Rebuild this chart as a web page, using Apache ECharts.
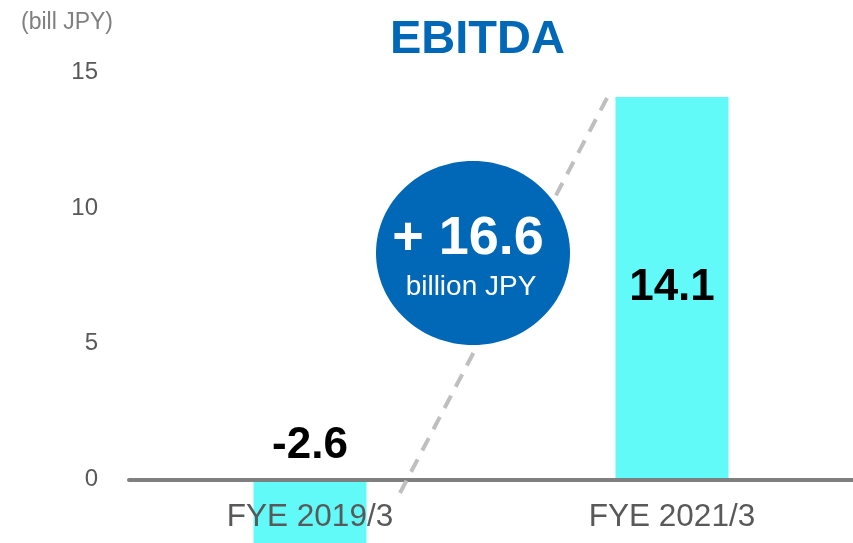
<!doctype html>
<html lang="en">
<head>
<meta charset="UTF-8">
<script src="https://cdn.jsdelivr.net/npm/echarts@6/dist/echarts.min.js"></script>
<style>
  html, body { margin: 0; padding: 0; background: #fff; }
  #main { width: 853px; height: 543px; }
</style>
</head>
<body>
<div id="main"></div>
<script>
// chart data
var categories = ['FYE 2019/3', 'FYE 2021/3'];
var ebitda = [-2.6, 14.1];
var yTicks = { min: 0, max: 15, interval: 5 };
var changeText = '+ 16.6';
var changeUnit = 'billion JPY';

var myChart = echarts.init(document.getElementById('main'));

var barData = ebitda.map(function (v) {
    return {
        value: v,
        label: v < 0
            ? { position: 'top', distance: 12 }
            : { position: 'inside' }
    };
});

var option = {
    animation: false,
    title: [{
        text: 'EBITDA',
        left: 385,
        top: 12,
        textStyle: { color: '#0068B6', fontSize: 47, fontWeight: 'bold', fontFamily: 'Liberation Sans' }
    }, {
        text: '(bill JPY)',
        left: 16,
        top: 6,
        textStyle: { color: '#7F7F7F', fontSize: 23, fontWeight: 'normal', fontFamily: 'Liberation Sans' }
    }],
    grid: {
        left: 129,
        right: 0,
        top: 72.5,
        bottom: 63.5,
        outerBoundsMode: 'none'
    },
    xAxis: {
        type: 'category',
        data: categories,
        z: 5,
        axisLine: { lineStyle: { color: '#7F7F7F', width: 4 } },
        axisTick: { show: false },
        axisLabel: { color: '#595959', fontSize: 31.5, margin: 22, fontFamily: 'Liberation Sans' }
    },
    yAxis: {
        type: 'value',
        min: yTicks.min,
        max: yTicks.max,
        interval: yTicks.interval,
        axisLine: { show: false },
        axisTick: { show: false },
        splitLine: { show: false },
        axisLabel: { color: '#595959', fontSize: 24, margin: 31, fontFamily: 'Liberation Sans' }
    },
    series: [{
        type: 'bar',
        data: barData,
        barWidth: 113,
        clip: false,
        itemStyle: { color: '#62F9F9' },
        label: {
            show: true,
            color: '#000',
            fontSize: 44,
            fontWeight: 'bold',
            fontFamily: 'Liberation Sans'
        }
    }],
    graphic: [{
        type: 'line',
        z: 10,
        shape: { x1: 400, y1: 493, x2: 607, y2: 98 },
        style: { stroke: '#BFBFBF', lineWidth: 4, lineDash: [14, 10] }
    }, {
        type: 'ellipse',
        z: 11,
        shape: { cx: 473, cy: 253, rx: 97, ry: 92 },
        style: { fill: '#0068B6' }
    }, {
        type: 'text',
        z: 12,
        x: 468,
        y: 239,
        style: {
            text: changeText, fill: '#fff', font: 'bold 54px "Liberation Sans"',
            align: 'center', verticalAlign: 'middle'
        }
    }, {
        type: 'text',
        z: 12,
        x: 471,
        y: 287,
        style: {
            text: changeUnit, fill: '#fff', font: '28px "Liberation Sans"',
            align: 'center', verticalAlign: 'middle'
        }
    }]
};
myChart.setOption(option);
</script>
</body>
</html>
